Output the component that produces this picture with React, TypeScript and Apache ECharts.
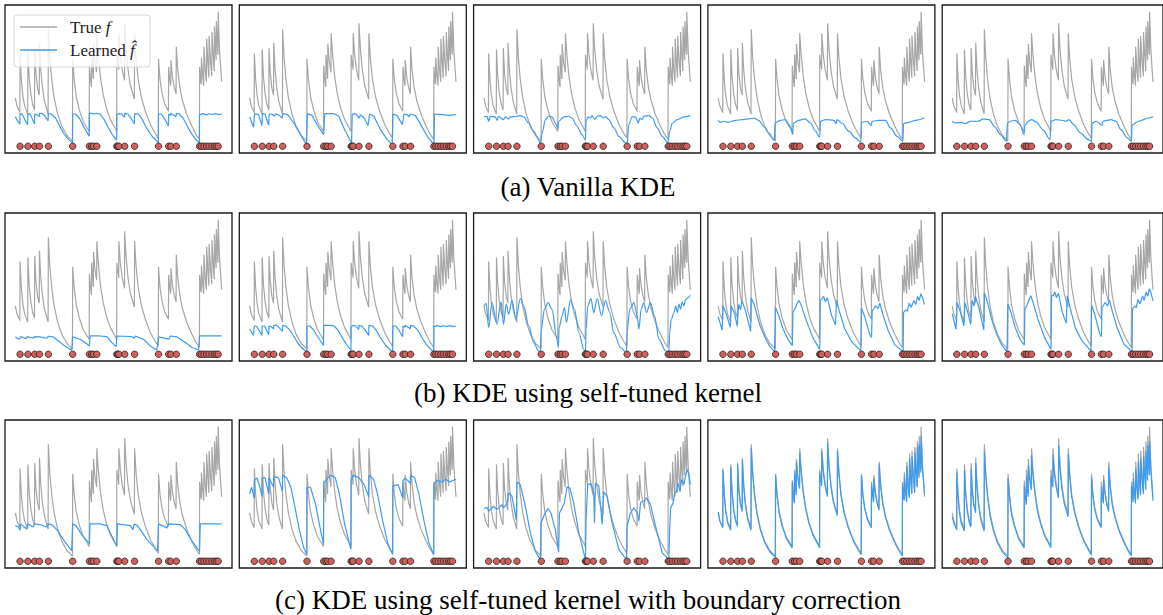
import React, { useEffect, useRef } from "react";
import * as echarts from "echarts";

// Event times (red dots)
const DOTS_X = [2.3, 6.1, 9.4, 11.7, 16.0, 27.8, 35.9, 37.0, 37.9, 39.5, 49.2, 49.7, 50.2, 53.0, 57.8, 69.4, 74.3, 75.4, 78.0, 89.3, 90.2, 91.4, 92.7, 93.9, 95.3, 96.5, 97.4, 98.3];

// True intensity f
const TRUE_F = [[0,36],[0.8,30],[2.2,25],
[2.3,69],[2.9,50],[3.6,38],[4.5,30],[6.0,24],
[6.1,72],[6.7,52],[7.5,39],[8.4,31],[9.3,27],
[9.4,73],[10.0,54],[10.8,43],[11.6,38],
[11.7,77],[12.3,58],[13.1,44],[14.2,33],[15.9,24],
[16.0,87],[16.7,66],[17.6,50],[18.8,36],[20.5,24],[22.5,15],[25,8],[27.7,4],
[27.8,65],[28.5,50],[29.5,37],[31,27],[33,18],[35.8,11],
[35.9,60],[36.4,50],[36.9,44],[37.0,68],[37.5,56],[37.8,50],[37.9,76],[38.5,64],[39.4,55],[39.5,84],[40.2,68],[41.2,52],[42.5,39],[44,29],[46,20],[48.5,13],[49.1,11],
[49.2,68],[49.6,60],[49.7,64],[50.1,57],[50.2,84],[50.9,68],[51.8,57],[52.9,49],
[53.0,91.5],[53.7,72],[54.6,57],[55.8,45],[57.7,35],
[57.8,84],[58.5,66],[59.5,50],[61,37],[63,26],[65.5,16],[68,9],[69.3,6],
[69.4,65],[70.1,50],[71,40],[72.3,32],[74.2,26],
[74.3,59],[74.8,50],[75.3,45],[75.4,64],[76.1,52],[77,44],[77.9,39],
[78.0,74],[78.7,57],[79.7,44],[81,34],[83,24],[85.5,15],[87.5,9],[89.2,5],
[89.3,59],[89.9,48],[90.1,46],[90.2,66],[90.8,52],[91.3,45],[91.4,74],[92,57],[92.6,48],[92.7,80],[93.3,62],[93.8,51],[93.9,82],[94.6,63],[95.2,52],[95.3,85],[95.9,67],[96.4,56],[96.5,89],[97.0,72],[97.3,64],[97.4,93],[97.9,75],[98.2,68],[98.3,100],[99,70],[100,48]];

// (a) Vanilla KDE
const A1 = [[0,22],[1.0,19],[2.2,16.5],[2.3,24.3],[3.3,24],[4.5,20],[6.0,16],[6.1,24.3],[7.2,24],[8.3,20],[9.3,16.5],[9.4,24],[10.5,23.5],[11.6,22],[11.7,24.5],[12.8,24.5],[14,23],[15.9,19],[16.0,24.5],[17.5,24],[19.5,21],[21.5,15],[23.5,9.5],[25.5,5.5],[27.7,2.5],[27.8,24],[29.2,24],[31,21],[33,15],[35.8,7.5],[35.9,24.5],[37,24.5],[38,24],[39.5,24.5],[41,24],[43,20],[45,14],[47.5,7.5],[49.1,4.5],[49.2,23.5],[50.2,24.5],[51.5,24],[52.9,21.5],[53.0,24.5],[54.5,24],[56,21],[57.7,16.5],[57.8,24.3],[59.5,24],[61.5,20],[63.5,14],[66,8],[69.3,2.5],[69.4,24],[70.8,24],[72.5,20],[74.2,15],[74.3,24],[75.3,23],[75.4,24.5],[77.9,22],[78,24.5],[79.5,24],[81.5,20.5],[83.5,14.5],[85.5,9],[87.5,5],[89.2,2.5],[89.3,23.5],[91,24.3],[92.5,23.3],[94,24.2],[95.5,23.6],[97,24.3],[98.5,23.5],[100,24]];
const A2 = [[0,21.8],[1.9,14.1],[2.4,24.3],[4.3,23.5],[6,15.4],[6.2,24.3],[7.5,24],[9.2,15.6],[9.5,24],[11,23.8],[12,22.3],[12.5,24],[14,23.5],[15.7,21],[16.2,24.3],[18.5,23.5],[21.4,17.3],[24.6,8.7],[27.5,1.2],[28,24.3],[30.2,23],[32.7,16.1],[35.9,8.7],[36.4,24.3],[40.8,24.3],[43.2,22.3],[46.4,11.2],[49.4,2.5],[49.7,23.5],[51.3,24.3],[53.2,21],[53.7,23.5],[55.5,21],[57.4,15.4],[58.1,24],[60.2,22.3],[63.4,12.4],[66.7,5],[69.1,1.2],[69.4,24],[71.5,22.8],[74,16.1],[74.8,24],[76.4,23.5],[77.2,21.8],[78,24],[80.4,22.8],[82.9,16.1],[86.1,7.4],[89.3,1.2],[89.6,24],[93.4,23.5],[96.6,23],[100,23.5]];
const A3 = [[0,21.8],[1.5,22.3],[2.3,18.6],[3.1,22.3],[5.5,21.8],[6.3,19.3],[7.1,22.3],[9.5,19.8],[10.4,21.8],[12,20.3],[12.8,21.8],[16,22.3],[17.6,22.8],[19.3,21.8],[21.7,17.3],[24.1,11.2],[26.5,5],[27.3,2],[28.2,9.9],[29.8,19.8],[31.4,22.3],[33,21.8],[34.6,17.3],[35.9,13.1],[36.2,18.6],[38.7,21.8],[41.1,22.3],[42.7,21],[45.1,14.9],[47.6,8.7],[49.2,4.5],[49.5,18.6],[50.3,21.8],[51.6,21],[52.4,22.8],[53.6,19.8],[54.9,22.3],[56.5,22.8],[57.8,21],[58.9,22.3],[60.5,19.8],[63,13.6],[65.4,7.4],[68.6,2.5],[69.4,2],[70.2,16.1],[71.8,21.8],[73.5,21.8],[74.8,17.3],[75.6,21],[76.7,19.8],[77.5,22.3],[79.9,22.8],[81.6,21],[84,13.6],[86.4,7.4],[89.2,2.5],[90,11],[91.3,17.3],[93.7,19.8],[96.9,21.8],[100,22.8]];
const A4 = [[0,19.3],[1,17.8],[2.6,18.6],[5,17.8],[8.3,19.3],[11.5,19.8],[14.7,20.3],[17.2,21],[19.6,19.3],[22,14.9],[24.4,9.9],[27.2,4.2],[27.5,17.3],[30.1,19.3],[32.5,19.8],[35,14.9],[36.1,8.7],[36.4,17.3],[39,19.3],[42.2,20.3],[44.7,17.3],[47.1,11.2],[49.2,6.7],[49.5,18.6],[52,19.8],[56,19.3],[57.1,16.9],[57.6,19.8],[60,17.3],[63.3,11.2],[66.5,6.2],[69.1,3],[69.4,17.8],[72.2,18.6],[74.1,15.4],[74.6,18.6],[77.8,19.3],[81.1,19.3],[83.5,13.6],[86.7,7.4],[89.5,3.7],[89.8,16.9],[92.4,17.8],[95.6,19.3],[100,21]];
const A5 = [[0,18.6],[1.5,17.3],[4.7,17.8],[6.3,16.9],[9.5,18.6],[12.8,18.6],[15.7,20.3],[18.5,19.8],[20.9,14.9],[24.1,8.7],[27,3.7],[27.5,17.3],[29,18.6],[31.4,19.3],[33.8,16.1],[35.8,8.7],[36.1,15.4],[37.9,18.6],[39.5,19.8],[41.9,18.1],[45.1,12.4],[48.7,5],[49.2,18.6],[51.6,19.8],[54.9,19.3],[56.5,18.6],[58.1,19.8],[60.5,16.1],[63.8,9.9],[67.8,5],[69.4,3.7],[69.7,17.3],[71.8,18.6],[74.6,15.4],[75.1,18.6],[79.1,19.8],[81.6,18.6],[84,12.4],[87.2,6.2],[89.3,3.7],[89.6,16.1],[92.9,18.6],[97.7,21],[100,21.8]];

// (b) KDE using self-tuned kernel
const B1 = [[0,12.9],[1.9,11.2],[2.6,13.1],[5.2,11.6],[5.8,13.1],[8.7,11.9],[9.4,13.1],[11.7,12.9],[15.2,11.9],[16,13.4],[18.4,12.9],[20.9,9.9],[24.1,6.2],[27.3,3],[27.8,12.9],[31.4,11.2],[33.8,8.7],[35.9,6.2],[36.2,13.6],[41,13.6],[44.3,13.1],[46.8,8.7],[48.9,5.7],[49.2,13.6],[56.5,13.1],[57.6,11.9],[58.1,13.6],[62.1,11.2],[65.4,6.2],[68.6,3.2],[69.4,12.9],[74.3,11.2],[75.1,13.6],[78.3,12.9],[82.4,8.7],[85.6,5],[88.8,3.2],[89.3,13.6],[100,13.6]];
const B2 = [[0,19],[1.8,14],[2.3,21],[3.2,21],[4.5,18],[6.0,14],[6.1,21],[7.2,21],[8.3,17.5],[9.3,14.5],[9.4,21],[10.5,20.5],[11.6,19],[11.7,21.5],[13,21.5],[14.5,19.5],[15.9,17],[16.0,21.5],[17.5,21],[19.5,18],[21.5,13],[23.5,8],[25.5,4.5],[27.7,1.5],[27.8,21],[29.2,21],[31,18],[33,13],[35.8,6.5],[35.9,21.5],[39.5,21.5],[41,21],[43,17.5],[45,12],[47.5,6],[49.1,3],[49.2,20.5],[50.2,21.5],[51.5,21],[52.9,18.5],[53.0,21.5],[54.5,21],[56,18],[57.7,14],[57.8,21.5],[59.5,21],[61.5,17.5],[63.5,12],[66,6.5],[69.3,1.5],[69.4,21],[70.8,21],[72.5,17.5],[74.2,13],[74.3,21],[75.3,20],[75.4,21.5],[77.9,19],[78,21.5],[79.5,21],[81.5,18],[83.5,12.5],[85.5,7.5],[87.5,4],[89.2,1.5],[89.3,20.5],[91,21.3],[92.5,20.5],[94,21.2],[95.5,20.6],[97,21.3],[98.5,20.5],[100,21]];
const B3 = [[0,35.9],[1.1,37.9],[2.3,19.8],[3.9,38.4],[6.3,22.3],[8.3,38.9],[9.5,22.3],[10.8,37.2],[12,29.7],[13.6,40.1],[15.5,26],[17.6,41.4],[19.3,35.9],[21.7,21.1],[24.1,8.7],[26.5,2.5],[27.3,1.2],[27.7,17.3],[29.3,33.5],[31.1,38.4],[33,33.5],[35.1,13.6],[36.1,5],[36.4,19.8],[37.9,28.5],[39,34.7],[40,23.5],[41.9,40.4],[43.9,33.5],[46,16.1],[48.4,3.7],[49.2,1.2],[49.5,18.6],[50.3,35.9],[51.9,41.4],[53.2,31],[54.9,41.4],[57,28.5],[58.9,40.1],[61,31],[62.9,16.1],[66.2,5],[69.1,1.2],[69.4,17.3],[70.7,33.5],[72.7,38.4],[74.3,28.5],[75.1,18.6],[76.2,33.5],[77.5,38.4],[78.8,31],[80.7,38.4],[82.7,28.5],[84.8,11.2],[88,2.5],[89.6,1.2],[90,16.1],[90.8,26],[92.1,31],[92.9,35.9],[93.7,31],[94.5,37.2],[95.3,33.5],[96.1,38.9],[96.9,36],[97.7,40.9],[98.9,42.1],[100,43.9]];
const B4 = [[0,28],[1.9,18],[2.3,36],[3.9,30],[5.8,20],[6.3,36],[8,30],[9.2,21],[9.9,37],[10.8,33],[11.5,40],[13.1,33],[15.7,17],[16,42],[17.6,36],[20.1,22],[22.5,13],[24.9,6],[27.3,2],[27.7,35],[29.3,29],[31.4,19],[33.8,11],[35.9,6.5],[36.2,31],[37.5,35],[38.3,38],[39.2,40],[40.3,36],[42.7,25],[46,12],[49.2,3.5],[49.5,40],[51.1,43],[51.9,39],[52.9,42],[54.9,29],[56.8,22],[57.3,40],[58.9,31],[61.3,19],[64.6,9.5],[69.1,2.5],[69.4,34],[71,28],[73.5,14],[74.3,12.5],[74.6,32],[76.2,36],[77.5,34],[78.3,38],[79.9,29],[82.4,17.5],[85.6,7],[89.6,2],[89.8,31],[90.8,33],[91.7,32],[92.5,38],[93.5,35],[94.8,40],[95.7,37],[96.6,43],[97.4,40],[98.2,45],[99,42],[100,37]];
const B5 = [[0,30.2],[1.9,18.6],[2.4,38.4],[3.9,32.2],[5.8,21.1],[6.3,38.4],[7.6,32],[9.2,22.3],[9.9,40.1],[10.8,35.9],[11.5,42.9],[13.1,35.9],[15.7,18.1],[16,45.8],[17.6,38.4],[20.1,23.5],[22.5,13.6],[24.9,6.2],[27.3,2],[27.7,37.2],[29.3,31],[31.4,19.8],[33.8,11.2],[35.9,6.7],[36.2,33.5],[37.5,37.2],[38.3,40.9],[39.2,43.4],[40.3,38.4],[42.7,26],[46,12.4],[49.2,3.7],[49.5,43.9],[50.3,43.4],[51.1,46.3],[51.9,42.1],[52.9,45.4],[54.9,31],[56.8,23],[57.3,43.4],[58.9,33.5],[61.3,19.8],[64.6,9.9],[69.1,2.5],[69.4,36.4],[71,29.7],[73.5,14.9],[74.3,13.1],[74.6,34.7],[75.6,37.2],[76.2,38.4],[77.5,35.9],[78.3,40.4],[79.9,31],[82.4,18.6],[85.6,7.4],[89.6,2],[89.8,33.5],[90.8,35.9],[91.7,34.7],[92.5,40.9],[93.6,37.5],[94.8,43.4],[95.6,40],[96.6,46.3],[97.4,43],[98.2,48.8],[98.9,46.3],[100,39.7]];

// (c) KDE using self-tuned kernel with boundary correction
const C1 = [[0,26.5],[1.5,25.5],[2.3,23],[2.6,27.8],[5.5,24],[6.1,27.8],[8.7,25.5],[9.4,27.8],[11.7,27.3],[15.2,25.5],[16,27.8],[17.6,27.3],[20.1,23.5],[23.3,16.1],[27.3,7.9],[27.8,27.8],[29.4,26.5],[32.2,19.8],[35.9,13.1],[36.2,27.8],[41,27.8],[44.3,26.5],[46.8,18.6],[49.2,11.2],[49.5,27.8],[55.7,26.5],[57,23.5],[57.6,27.8],[59.2,26.5],[63.8,16.1],[68.9,7.9],[69.4,27.8],[73.5,24.8],[74.3,27.8],[79.9,27.3],[82.4,23.5],[85.6,14.9],[89.3,7.4],[89.6,27.8],[100,27.8]];
const C2 = [[0,50],[1,55],[2.2,47],[2.3,60],[3.5,62],[5,55],[6.0,48],[6.1,62],[7.5,62],[9.3,50],[9.4,62],[11.6,55],[11.7,63],[14,62],[15.9,52],[16.0,64],[18,62],[20,55],[22,40],[24,24],[26,11],[27.7,5],[27.8,55],[29.5,55],[32,42],[34.5,22],[35.8,13],[35.9,58],[37.9,62],[39.5,64],[41.5,62],[43.5,50],[46,28],[48.5,12],[49.1,9],[49.2,60],[50.2,64],[53,62],[55.5,57],[57.7,48],[57.8,64],[60,61],[62,50],[64.5,30],[67,13],[69.3,5],[69.4,56],[72,57],[74.2,47],[74.3,60],[75.4,62],[77.9,58],[78,64],[80,62],[82,50],[84.5,30],[87,13],[89.2,5],[89.3,58],[91,60],[93,59],[95,61],[97,59],[100,61]];
const C3 = [[0,39.2],[1.5,40.1],[2.3,37.2],[4.7,40.9],[6.3,38.4],[8.7,42.1],[9.5,39.7],[11.2,42.9],[12,50.8],[13.6,48.3],[15.7,30.5],[16,59],[17.6,57],[20.1,40.9],[22.5,21.1],[24.9,7.4],[27.3,1.2],[27.7,28.5],[29.3,34.7],[31,39.2],[32.5,35.9],[34.6,23.5],[36.2,6.7],[36.6,35.9],[37.9,39.7],[39,43.4],[40.3,55.3],[41.6,54.5],[43.5,43.4],[46,21.1],[49.2,1.2],[49.5,31],[50.3,57],[51.9,57.7],[53.2,50.8],[53.6,28.5],[54,58.2],[55.7,55.8],[57.3,27.3],[58.1,51.5],[59.7,48.3],[62.1,28.5],[65.4,8.7],[69.1,1.2],[69.4,26],[71,35.9],[72.7,39.7],[74.3,35.9],[75.1,29.7],[75.9,43.9],[77.5,44.6],[78.8,47.1],[80.7,42.1],[83.2,26],[86.4,6.2],[89.6,1.2],[90,23.5],[90.5,39.7],[91.7,43.4],[92.4,50.8],[93.4,52],[94,58.2],[95,52],[95.8,60.7],[96.9,57],[97.7,63.2],[98.5,68.2],[99.4,64.4],[100,57]];
const C4 = [[0,36.5],[0.8,30],[2.2,25],[2.3,68],[2.9,50],[3.6,38],[4.5,29],[6.0,23],[6.1,70],[6.7,51],[7.5,38],[8.4,30],[9.3,26],[9.4,72],[10.0,53],[10.8,42],[11.6,37],[11.7,75],[12.3,57],[13.1,43],[14.2,32],[15.9,23],[16.0,84],[16.7,65],[17.6,49],[18.8,35],[20.5,23],[22.5,14],[25,7],[27.7,3],[27.8,64],[28.5,49],[29.5,36],[31,26],[33,17],[35.8,10],[35.9,59],[36.4,49],[36.9,43],[37.0,66],[37.5,55],[37.8,49],[37.9,74],[38.5,63],[39.4,54],[39.5,81],[40.2,66],[41.2,51],[42.5,38],[44,28],[46,19],[48.5,12],[49.1,10],[49.2,66],[49.6,59],[49.7,63],[50.1,56],[50.2,82],[50.9,67],[51.8,56],[52.9,48],[53.0,88],[53.7,70],[54.6,56],[55.8,44],[57.7,34],[57.8,82],[58.5,65],[59.5,49],[61,36],[63,25],[65.5,15],[68,8],[69.3,5],[69.4,64],[70.1,49],[71,39],[72.3,31],[74.2,25],[74.3,57],[74.8,49],[75.3,44],[75.4,62],[76.1,51],[77,43],[77.9,38],[78.0,72],[78.7,56],[79.7,43],[81,33],[83,23],[85.5,14],[87.5,8],[89.2,4],[89.3,57],[89.9,47],[90.1,45],[90.2,63],[90.8,51],[91.3,44],[91.4,71],[92,56],[92.6,47],[92.7,76],[93.3,60],[93.8,50],[93.9,78],[94.6,61],[95.2,51],[95.3,81],[95.9,65],[96.4,55],[96.5,85],[97.0,70],[97.3,62],[97.4,87],[97.9,73],[98.2,66],[98.3,93],[99,69],[100,50]];
const C5 = [[0,33],[0.8,28],[2.2,23.5],[2.3,66],[2.9,48],[3.6,36],[4.5,28],[6.0,22.5],[6.1,68],[6.7,50],[7.5,37],[8.4,29],[9.3,25.5],[9.4,69],[10.0,51],[10.8,41],[11.6,36],[11.7,73],[12.3,56],[13.1,42],[14.2,31],[15.9,22.5],[16.0,82],[16.7,63],[17.6,48],[18.8,34],[20.5,23],[22.5,14],[25,7],[27.7,2.5],[27.8,62],[28.5,48],[29.5,35],[31,26],[33,17],[35.8,10],[35.9,56],[36.4,47],[36.9,42],[37.0,63],[37.5,53],[37.8,48],[37.9,71],[38.5,61],[39.4,53],[39.5,79],[40.2,64],[41.2,50],[42.5,37],[44,28],[46,19],[48.5,12],[49.1,10],[49.2,63],[49.6,57],[49.7,61],[50.1,55],[50.2,79],[50.9,65],[51.8,55],[52.9,47],[53.0,86],[53.7,68],[54.6,54],[55.8,43],[57.7,33],[57.8,80],[58.5,63],[59.5,48],[61,36],[63,25],[65.5,15],[68,8],[69.3,4.5],[69.4,62],[70.1,48],[71,38],[72.3,31],[74.2,25],[74.3,55],[74.8,47],[75.3,43],[75.4,60],[76.1,50],[77,42],[77.9,37],[78.0,70],[78.7,55],[79.7,42],[81,33],[83,23],[85.5,14],[87.5,8],[89.2,4],[89.3,56],[89.9,46],[90.1,44],[90.2,61],[90.8,50],[91.3,43],[91.4,69],[92,55],[92.6,46],[92.7,74],[93.3,59],[93.8,49],[93.9,76],[94.6,60],[95.2,50],[95.3,78],[95.9,63],[96.4,53],[96.5,82],[97.0,68],[97.3,60],[97.4,86],[97.9,71],[98.2,64],[98.3,89],[99,66],[100,45]];

const LEARNED = [[A1, A2, A3, A4, A5], [B1, B2, B3, B4, B5], [C1, C2, C3, C4, C5]];
const SMOOTHED = [[false, false, true, true, true], [false, false, true, false, false], [false, false, false, false, false]];
const CAPTIONS = ["(a) Vanilla KDE", "(b) KDE using self-tuned kernel", "(c) KDE using self-tuned kernel with boundary correction"];
const LEGEND_TRUE = "True ";
const LEGEND_LEARNED = "Learned ";

const COL_LEFT = [5, 239.3, 473.6, 707.9, 942.2];
const ROW_TOP = [5, 213, 420];
const CAPTION_Y = [187, 393, 600];
const CAPTION_X = 588;
const PW = 227;
const PH = 148;

const GRAY = "#a6a6a6";
const BLUE = "#3d9bf2";
const SERIF = "Liberation Serif";

export default function App() {
  const ref = useRef<HTMLDivElement>(null);
  useEffect(() => {
    document.body.style.margin = "0";
    const chart = echarts.init(ref.current!, undefined, { renderer: "svg" });
    const grid: any[] = [];
    const xAxis: any[] = [];
    const yAxis: any[] = [];
    const series: any[] = [];
    let idx = 0;
    for (let r = 0; r < 3; r++) {
      for (let c = 0; c < 5; c++) {
        grid.push({
          left: COL_LEFT[c], top: ROW_TOP[r], width: PW, height: PH,
          show: true, borderColor: "#1a1a1a", borderWidth: 1.3, backgroundColor: "transparent",
        });
        xAxis.push({ gridIndex: idx, type: "value", min: -5, max: 105, show: false });
        yAxis.push({ gridIndex: idx, type: "value", min: -5, max: 105, show: false });
        series.push({
          type: "line", xAxisIndex: idx, yAxisIndex: idx, data: TRUE_F,
          showSymbol: false, symbol: "none", lineStyle: { color: GRAY, width: 1.2 }, z: 2, silent: true,
        });
        series.push({
          type: "line", xAxisIndex: idx, yAxisIndex: idx, data: LEARNED[r][c],
          smooth: SMOOTHED[r][c] ? 0.3 : false, smoothMonotone: "x",
          showSymbol: false, symbol: "none", lineStyle: { color: BLUE, width: 1.2 }, z: 3, silent: true,
        });
        series.push({
          type: "scatter", xAxisIndex: idx, yAxisIndex: idx, data: DOTS_X.map((x) => [x, 0]),
          symbolSize: 6.5, itemStyle: { color: "#cf5f5b", borderColor: "#222", borderWidth: 0.8, opacity: 1 }, z: 4, silent: true,
        });
        idx++;
      }
    }
    const graphic: any[] = CAPTIONS.map((t, i) => ({
      type: "text", x: CAPTION_X, y: CAPTION_Y[i],
      style: { text: t, fontFamily: SERIF, fontSize: 27, fill: "#000", align: "center", verticalAlign: "middle" },
    }));
    const rich = {
      r: { fontFamily: SERIF, fontSize: 17, fill: "#222" },
      i: { fontFamily: SERIF, fontSize: 17, fontStyle: "italic", fill: "#222" },
    };
    graphic.push(
      { type: "rect", shape: { x: 14, y: 15, width: 136, height: 52, r: 3 }, style: { fill: "rgba(255,255,255,0.8)", stroke: "#d6d6d6", lineWidth: 1 }, z: 100 },
      { type: "line", shape: { x1: 20, y1: 27, x2: 57, y2: 27 }, style: { stroke: GRAY, lineWidth: 1.3 }, z: 101 },
      { type: "line", shape: { x1: 20, y1: 50, x2: 57, y2: 50 }, style: { stroke: BLUE, lineWidth: 1.3 }, z: 101 },
      { type: "text", x: 70, y: 27, z: 101, style: { text: `{r|${LEGEND_TRUE}}{i|f}`, verticalAlign: "middle", rich } },
      { type: "text", x: 70, y: 50, z: 101, style: { text: `{r|${LEGEND_LEARNED}}{i|f\u0302}`, verticalAlign: "middle", rich } },
    );
    chart.setOption({ animation: false, grid, xAxis, yAxis, series, graphic });
    return () => chart.dispose();
  }, []);
  return <div ref={ref} style={{ width: 1163, height: 615, background: "#fff" }} />;
}
